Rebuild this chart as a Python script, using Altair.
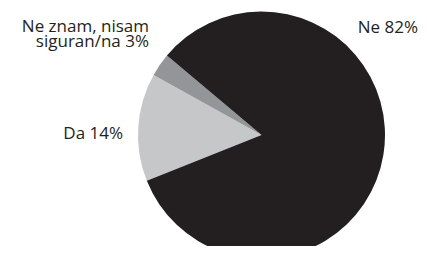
import math
import altair as alt
import pandas as pd

# Data
categories = ["Da", "Ne znam, nisam siguran/na", "Ne"]
values = [14, 3, 82]
colors = ["#c6c7c9", "#939598", "#231f20"]
order_idx = [0, 1, 2]
label_texts = ["Ne 82%", "Ne znam, nisam\nsiguran/na 3%", "Da 14%"]

df = pd.DataFrame({"cat": categories, "val": values, "ord": order_idx})

start = math.radians(248.2)

pie = alt.Chart(df).mark_arc(outerRadius=123.5, stroke=None).encode(
    theta=alt.Theta("val:Q", stack=True, scale=alt.Scale(range=[start, start + 2 * math.pi])),
    color=alt.Color("cat:N", scale=alt.Scale(domain=categories, range=colors), legend=None),
    order=alt.Order("ord:Q"),
    x=alt.value(253.5),
    y=alt.value(127),
)

font = "Open Sans"
fs = 17
tc = "#231f20"

def label(text, x, y, align):
    return alt.Chart(pd.DataFrame({"t": [text]})).mark_text(
        font=font, fontSize=fs, color=tc, align=align, baseline="alphabetic",
        lineBreak="\n", lineHeight=14.5
    ).encode(text="t:N", x=alt.value(x), y=alt.value(y))

l1 = label(label_texts[0], 410, 25.3, "right")
l2 = label(label_texts[1], 141, 24, "right")
l4 = label(label_texts[2], 115, 131, "right")

chart = alt.layer(pie, l1, l2, l4).properties(
    width=411, height=238, padding=0, autosize=alt.AutoSizeParams(type="none")
).configure_view(stroke=None)

chart.save("out.html", embed_options={"renderer": "svg", "actions": False})
